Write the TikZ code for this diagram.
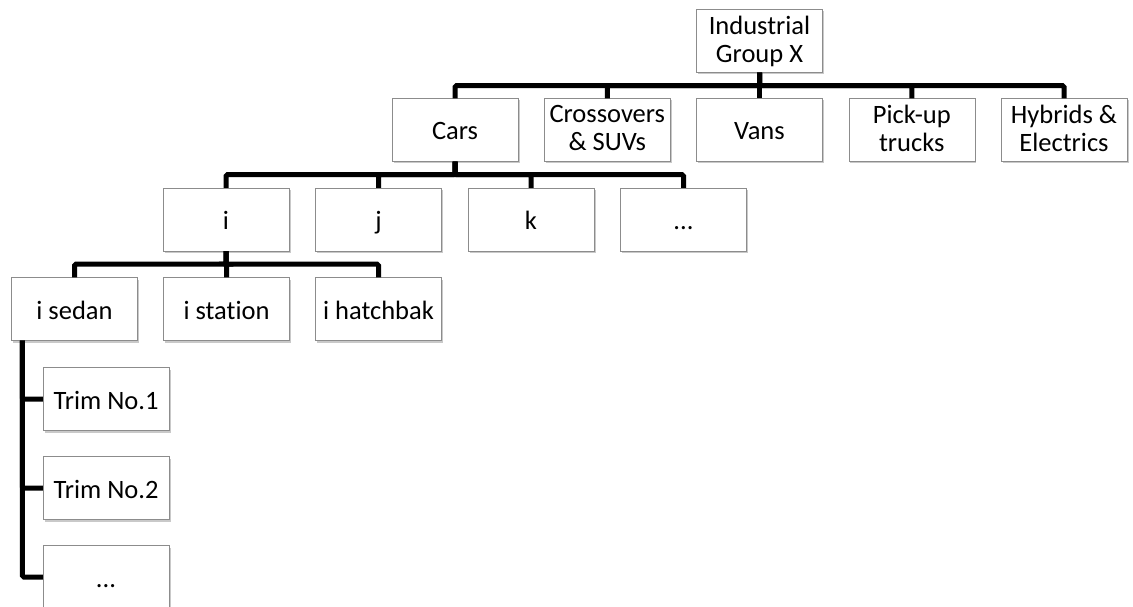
\documentclass[tikz,border=0pt]{standalone}
\usepackage{fontspec}
\setmainfont[Ligatures=NoCommon]{Carlito}
\usetikzlibrary{shadows}

\begin{document}
\begin{tikzpicture}[x=1pt, y=1pt,
    unit/.style={draw=boxgray, fill=white, minimum width=126pt, minimum height=63pt,
        inner sep=0pt, align=center, font=\fontsize{26.5}{28}\selectfont,
        execute at begin node=\st, execute at end node=\st,
        drop shadow={shadow xshift=1.5pt, shadow yshift=-2pt, opacity=.3, fill=black!70}},
    link/.style={line width=5pt, rounded corners=1.5pt}]

    \def\h{13}
    \def\r{-130}
    \def\st{\rule[-4pt]{0pt}{28pt}}
    \definecolor{boxgray}{rgb}{.55,.55,.55}

    \clip (0,0) rectangle (1133,-607);

    \node[unit] (grp) at (759.5,-41) {Industrial\\Group X};

    \node[unit] (cars)  at (455,\r)    {Cars};
    \node[unit] (cross) at (607.3,\r)  {Crossovers\\\& SUVs};
    \node[unit] (vans)  at (759.5,\r)  {Vans};
    \node[unit] (pick)  at (911.8,\r)  {Pick-up\\trucks};
    \node[unit] (hyb)   at (1064,\r)   {Hybrids \&\\Electrics};

    \node[unit] (i)     at (226,-219.5)   {i};
    \node[unit] (j)     at (378.5,-219.5) {j};
    \node[unit] (k)     at (531,-219.5)   {k};
    \node[unit] (idots) at (683.5,-219.5) {...};

    \node[unit] (sedan)   at (74.5,-309)  {i sedan};
    \node[unit] (station) at (226.5,-309) {i station};
    \node[unit] (hatch)   at (378.5,-309) {i hatchbak};

    \node[unit] (trimA)    at (106,-399) {Trim No.1};
    \node[unit] (trimB)    at (106,-488) {Trim No.2};
    \node[unit] (trimdots) at (106,-577) {...};

    \foreach \c in {cars,cross,vans,pick,hyb}
        \draw[link] (grp.south) -- ++(0,-\h) -| (\c.north);
    \foreach \c in {i,j,k,idots}
        \draw[link] (cars.south) -- ++(0,-\h) -| (\c.north);
    \foreach \c in {sedan,station,hatch}
        \draw[link] (i.south) -- ++(0,-\h) -| (\c.north);
    \foreach \c in {trimA,trimB,trimdots}
        \draw[link] ([xshift=11pt]sedan.south west) |- (\c.west);

\end{tikzpicture}
\end{document}
